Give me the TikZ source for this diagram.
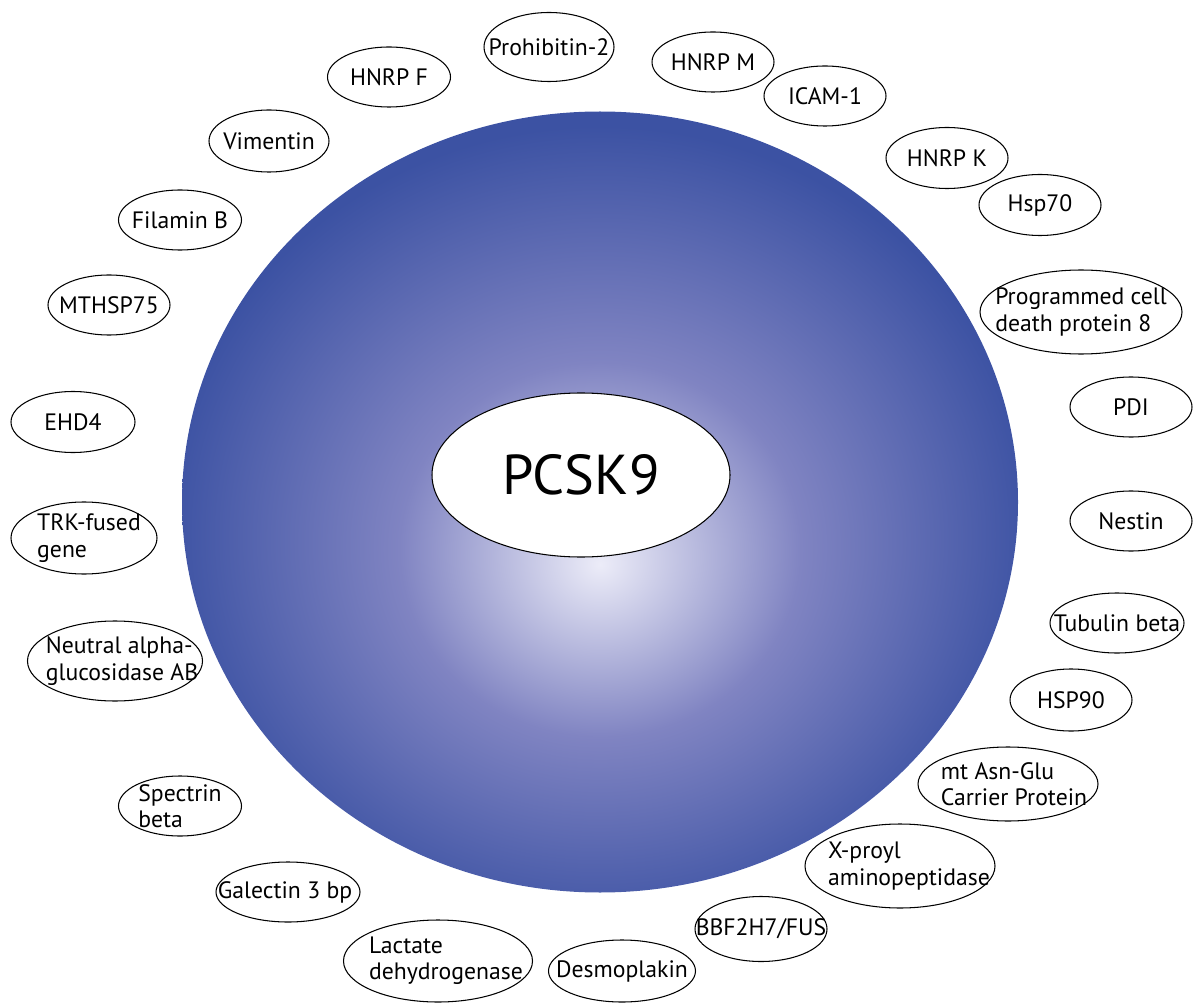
\documentclass[tikz,border=0pt]{standalone}
\usepackage{fontspec}
\setmainfont{PT Sans}
\usepackage{tikz}
\usetikzlibrary{shapes.geometric}

\definecolor{celldark}{RGB}{60,82,163}
\definecolor{cellmid}{RGB}{128,132,194}
\definecolor{celllight}{RGB}{236,236,248}
\pgfdeclareradialshading{cellshade}{\pgfpoint{0bp}{-4bp}}{color(0bp)=(celllight); color(12bp)=(cellmid); color(26bp)=(celldark); color(50bp)=(celldark)}

\tikzset{
  prot/.style 2 args={draw, ellipse, line width=0.6pt, inner sep=0pt,
    minimum width=#1*0.02cm, minimum height=#2*0.02cm},
  protlabel/.style={align=left, font=\fontsize{13.5}{15}\selectfont, inner sep=0pt}
}

\begin{document}
\begin{tikzpicture}[x=0.02cm, y=-0.02cm]
  \useasboundingbox (0,0) rectangle (1193,1003);
  % the cell
  \node[ellipse, shading=cellshade, minimum width=836*0.02cm, minimum height=781*0.02cm] (cell) at (600,502) {};
  \node[draw, ellipse, fill=white, line width=0.6pt, inner sep=0pt, minimum width=298*0.02cm, minimum height=164*0.02cm,
        font=\fontsize{32}{34}\selectfont] (pcsk) at (581,475) {PCSK9};

  % binding partners, clockwise from the top
  \node[prot={130}{69}, label={[protlabel]center:Prohibitin-2}] (proh) at (549,47) {};
  \node[prot={122}{60}, label={[protlabel]center:HNRP M}] (hnrpm) at (713,62) {};
  \node[prot={122}{60}, label={[protlabel]center:ICAM-1}] (icam) at (825,96) {};
  \node[prot={122}{61}, label={[protlabel]center:HNRP K}] (hnrpk) at (947,158) {};
  \node[prot={122}{61}, label={[protlabel]center:Hsp70}] (hsp70) at (1040,205) {};
  \node[prot={202}{84}, label={[protlabel]center:Programmed cell\\death protein 8}] (pcd) at (1081,312) {};
  \node[prot={122}{60}, label={[protlabel]center:PDI}] (pdi) at (1131,407) {};
  \node[prot={122}{60}, label={[protlabel]center:Nestin}] (nestin) at (1131,521) {};
  \node[prot={134}{60}, label={[protlabel]center:Tubulin beta}] (tub) at (1117,623) {};
  \node[prot={122}{62}, label={[protlabel]center:HSP90}] (hsp90) at (1071,700) {};
  \node[prot={180}{74}, label={[protlabel, xshift=0.12cm]center:mt Asn-Glu\\Carrier Protein}] (asn) at (1008,784) {};
  \node[prot={190}{84}, label={[protlabel, xshift=0.18cm]center:X-proyl\\aminopeptidase}] (xpro) at (900,866) {};
  \node[prot={132}{65}, label={[protlabel]center:BBF2H7/FUS}] (bbf) at (761,929) {};
  \node[prot={147}{62}, label={[protlabel]center:Desmoplakin}] (desmo) at (622,971) {};
  \node[prot={189}{82}, label={[protlabel, xshift=0.16cm]center:Lactate\\dehydrogenase}] (ldh) at (438,961) {};
  \node[prot={144}{60}, label={[protlabel, xshift=-0.06cm]center:Galectin 3 bp}] (gal) at (288,892) {};
  \node[prot={123}{60}, label={[protlabel]center:Spectrin\\beta}] (spec) at (180,806) {};
  \node[prot={175}{80}, label={[protlabel, xshift=0.14cm]center:Neutral alpha-\\glucosidase AB}] (nag) at (115,661) {};
  \node[prot={146}{72}, label={[protlabel, xshift=0.1cm]center:TRK-fused\\gene}] (trk) at (84,538) {};
  \node[prot={124}{61}, label={[protlabel]center:EHD4}] (ehd) at (73,422) {};
  \node[prot={122}{60}, label={[protlabel]center:MTHSP75}] (mthsp) at (109,305) {};
  \node[prot={123}{60}, label={[protlabel]center:Filamin B}] (filb) at (180,220) {};
  \node[prot={120}{62}, label={[protlabel]center:Vimentin}] (vim) at (269,141) {};
  \node[prot={123}{60}, label={[protlabel]center:HNRP F}] (hnrpf) at (389,77) {};
\end{tikzpicture}
\end{document}
